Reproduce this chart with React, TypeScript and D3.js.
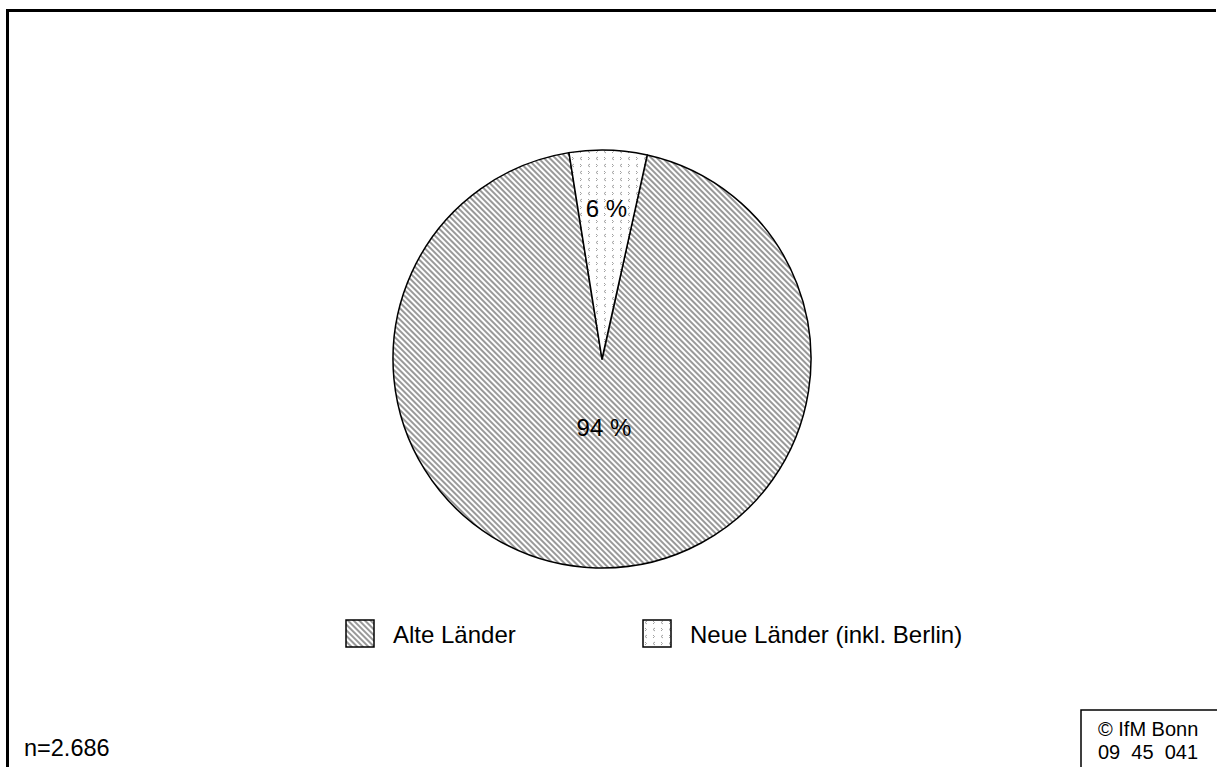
import { useMemo } from "react";
import * as d3 from "d3";

// Shares of respondents by region (percent)
const CATEGORIES = ["Alte Länder", "Neue Länder (inkl. Berlin)"];
const VALUES = [94, 6];
const LABELS = ["94 %", "6 %"];
const SAMPLE = "n=2.686";
const SOURCE = ["© IfM Bonn", "09  45  041"];

const W = 1217;
const H = 767;
const CX = 602;
const CY = 359;
const R = 209;
const FONT = "'Liberation Sans', Arial, sans-serif";

// Excel-ish label placement: small slice label sits far out, big one near the centre.
const LABEL_RADIUS = [0.33, 0.72];
const FILLS = ["url(#stripes)", "url(#chevrons)"];

export default function App() {
    const arcs = useMemo(() => {
        const start = (12.5 * Math.PI) / 180;
        return d3
            .pie<number>()
            .sort(null)
            .startAngle(start)
            .endAngle(start + 2 * Math.PI)(VALUES);
    }, []);

    const arc = d3.arc<d3.PieArcDatum<number>>().innerRadius(0).outerRadius(R);

    const legendX = [346, 643];

    return (
        <svg
            width={W}
            height={H}
            style={{ position: "absolute", left: 0, top: 0, background: "#fff" }}
            fontFamily={FONT}
        >
            <defs>
                <pattern id="stripes" patternUnits="userSpaceOnUse" width={4} height={10} patternTransform="rotate(-45)">
                    <rect width={4} height={10} fill="#fff" />
                    <rect width={2} height={10} fill="#999" />
                </pattern>
                <pattern id="chevrons" patternUnits="userSpaceOnUse" width={16} height={14}>
                    <rect width={16} height={14} fill="#fff" />
                    <g fill="none" stroke="#a0a0a0" strokeWidth={1}>
                        <path d="M4,1 L2,2.5 L4,4" />
                        <path d="M12,8 L10,9.5 L12,11" />
                        <path d="M10,1 L11.5,2.5 L10,4" />
                        <path d="M2,8 L3.5,9.5 L2,11" />
                    </g>
                </pattern>
            </defs>

            {/* outer frame (left + top only visible) */}
            <path d={`M7.5,${H} V10.5 H${W - 1}`} fill="none" stroke="#000" strokeWidth={3} />

            {arcs.map((a, i) => (
                <path key={CATEGORIES[i]} d={arc(a) ?? ""} transform={`translate(${CX},${CY})`} fill={FILLS[i]} stroke="#000" strokeWidth={1.5} strokeLinejoin="round" />
            ))}

            {arcs.map((a, i) => {
                const mid = (a.startAngle + a.endAngle) / 2;
                const rr = R * LABEL_RADIUS[i];
                const x = CX + rr * Math.sin(mid) + (i === 0 ? 4 : 0);
                const y = CY - rr * Math.cos(mid);
                return (
                    <text key={LABELS[i]} x={x} y={y} textAnchor="middle" dominantBaseline="central" fontSize={24}>
                        {LABELS[i]}
                    </text>
                );
            })}

            {CATEGORIES.map((c, i) => (
                <g key={c} transform={`translate(${legendX[i]},620)`}>
                    <rect width={28} height={27} fill={FILLS[i]} stroke="#000" strokeWidth={1.5} />
                    <text x={47} y={14} dominantBaseline="central" fontSize={24}>
                        {c}
                    </text>
                </g>
            ))}

            <text x={24} y={756} fontSize={23.5}>
                {SAMPLE}
            </text>

            <rect x={1081} y={710} width={W} height={H} fill="#fff" stroke="#000" strokeWidth={1.5} />
            <text x={1098} y={736} fontSize={20} style={{ whiteSpace: "pre" }}>
                {SOURCE[0]}
            </text>
            <text x={1098} y={759} fontSize={20} style={{ whiteSpace: "pre" }}>
                {SOURCE[1]}
            </text>
        </svg>
    );
}
